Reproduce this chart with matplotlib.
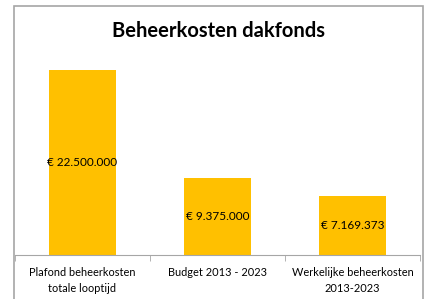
import matplotlib.pyplot as plt
from matplotlib.patches import Rectangle

# data
categories = ['Plafond beheerkosten\ntotale looptijd', 'Budget 2013 - 2023',
              'Werkelijke beheerkosten\n2013-2023']
values = [22500000, 9375000, 7169373]
labels = ['€ 22.500.000', '€ 9.375.000', '€ 7.169.373']

plt.rcParams['font.family'] = ['Lato', 'DejaVu Sans']

W, H = 425, 299
fig = plt.figure(figsize=(W / 100, H / 100), dpi=100)

# chart border (bottom edge runs off the image)
fig.patches.append(Rectangle((14 / W, -0.1), (423 - 14) / W, 1.1 - 5.5 / H,
                             transform=fig.transFigure, fill=False,
                             edgecolor='#a6a6a6', linewidth=1.2))

ax = fig.add_axes([15 / W, (H - 255) / H, (420 - 15) / W, (255 - 49) / H])
x = range(len(values))
bars = ax.bar(x, values, width=0.5, color='#ffc000')
for b, lab in zip(bars, labels):
    ax.text(b.get_x() + b.get_width() / 2, b.get_height() / 2, lab,
            ha='center', va='center', fontsize=8.5, color='#000000')

ax.set_xlim(-0.5, len(values) - 0.5)
ax.set_ylim(0, 25000000)
ax.set_yticks([])
ax.set_xticks(x)
ax.set_xticklabels(categories, fontsize=7.9, linespacing=1.45)
ax.set_xticks([-0.5, 0.5, 1.5, 2.5], minor=True)
ax.tick_params(axis='x', which='major', length=0, pad=9)
ax.tick_params(axis='x', which='minor', length=4, color='#a6a6a6')
for s in ['top', 'left', 'right']:
    ax.spines[s].set_visible(False)
ax.spines['bottom'].set_color('#a6a6a6')

fig.text((14 + 423) / 2 / W, 1 - 31 / H, 'Beheerkosten dakfonds',
         ha='center', va='center', fontsize=14.5, fontweight='bold')

fig.savefig('out.png', dpi=100)
